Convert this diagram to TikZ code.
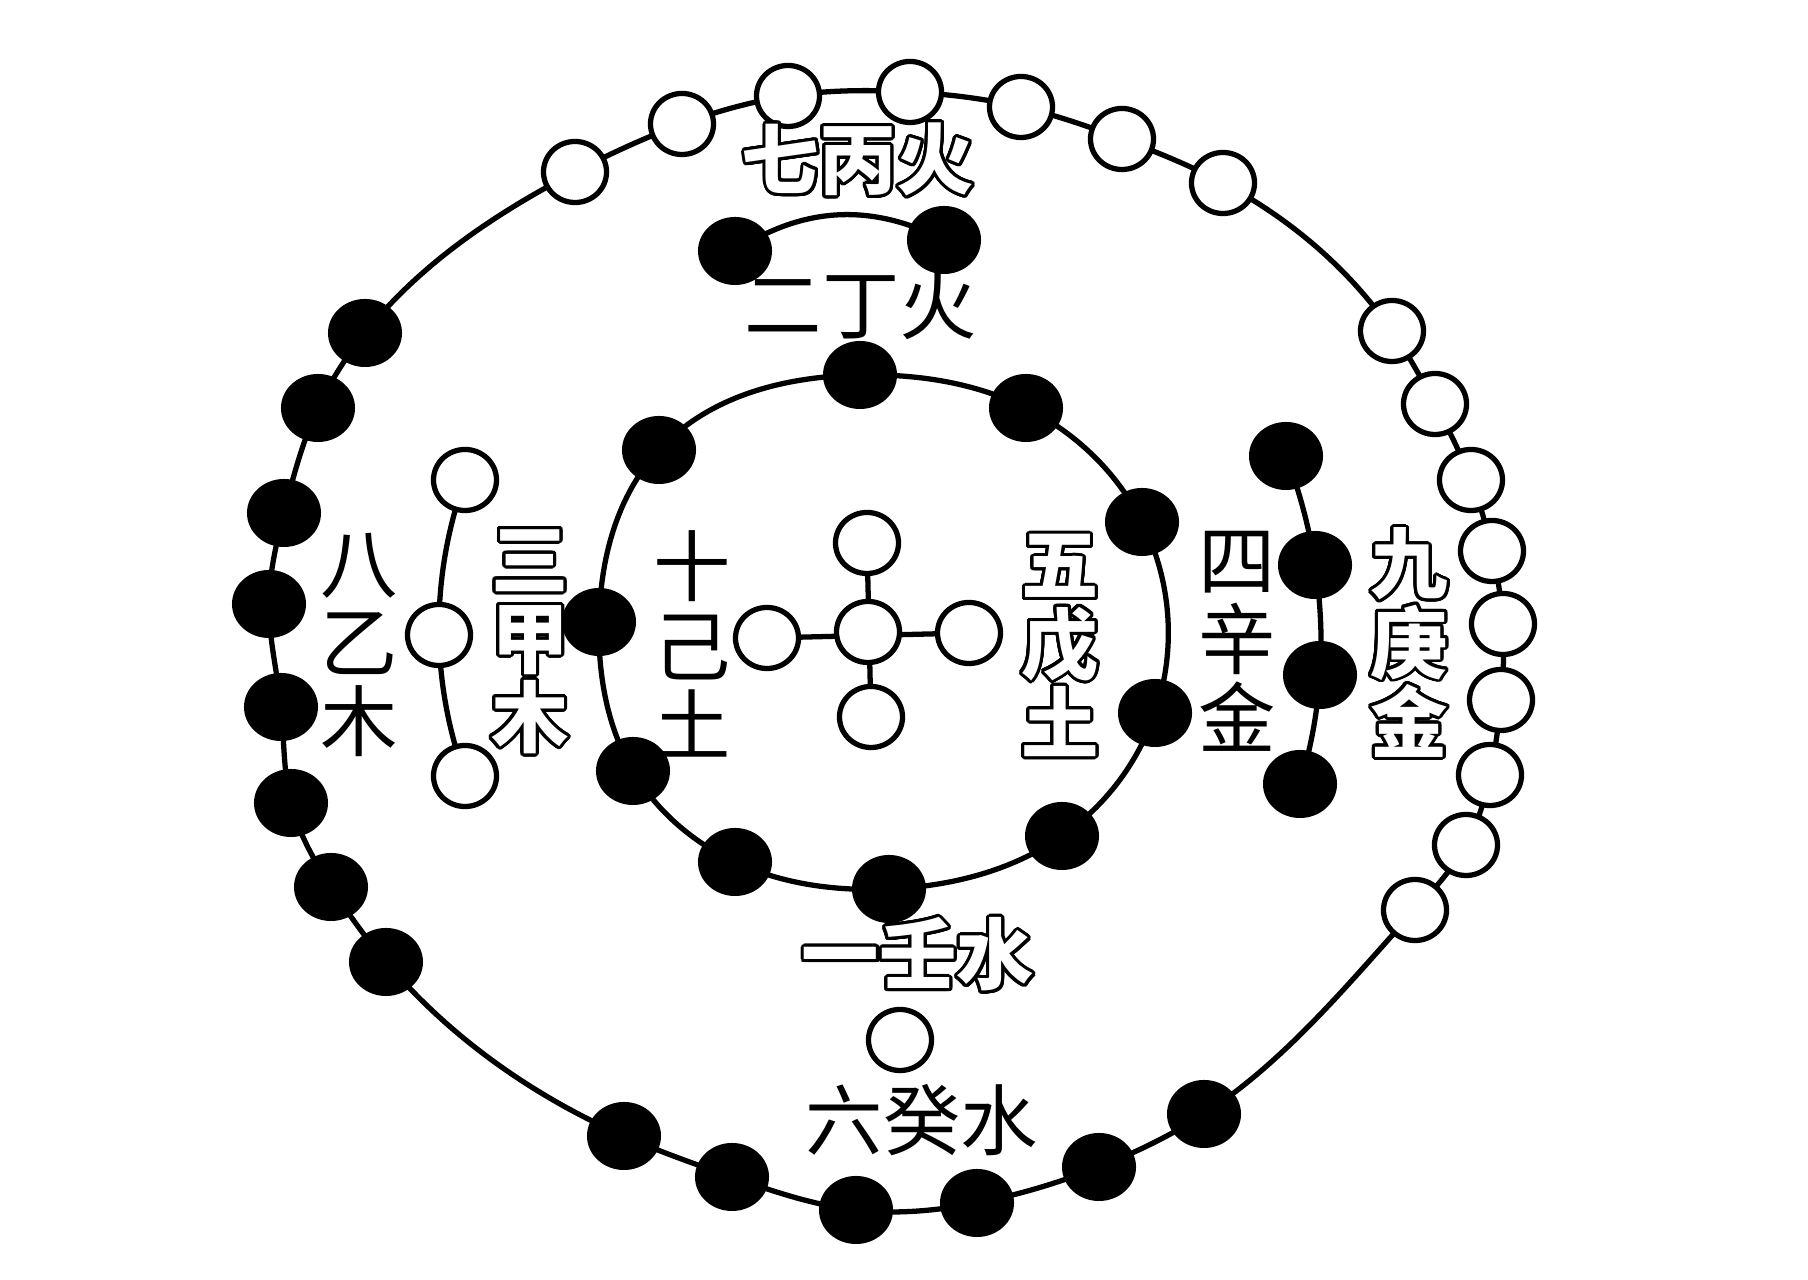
\documentclass[tikz,border=0pt]{standalone}
\usepackage{fontspec}
\usepackage{contour}
\newfontfamily\cjk{Noto Sans CJK SC}
\usetikzlibrary{shapes.geometric,backgrounds,hobby}
\contourlength{0.85pt}
\contournumber{32}
\newcommand{\hollowtxt}[1]{\contour{black}{#1}}
\tikzset{
  wb/.style={ellipse,draw=black,fill=white,line width=1.5pt,minimum width=0.63cm,minimum height=0.61cm,inner sep=0pt},
  bb/.style={ellipse,fill=black,minimum width=0.74cm,minimum height=0.68cm,inner sep=0pt},
  ring/.style={draw=black,line width=1.5pt},
  lbl/.style={font=\cjk\fontsize{22pt}{22.5pt}\selectfont,align=center,inner sep=0pt,text=black},
  olbl/.style={font=\cjk\bfseries\fontsize{22pt}{22.5pt}\selectfont,align=center,inner sep=0pt,text=white},
}
\begin{document}
\begin{tikzpicture}[x=0.01cm,y=-0.01cm]
% outer ring beads
\node[wb] (o1) at (575,172) {};
\node[wb] (o2) at (682,124) {};
\node[wb] (o3) at (788,96) {};
\node[wb] (o4) at (910,92) {};
\node[wb] (o5) at (1021,107) {};
\node[wb] (o6) at (1122,139) {};
\node[wb] (o7) at (1223,183) {};
\node[wb] (o8) at (1392,331) {};
\node[wb] (o9) at (1435,404) {};
\node[wb] (o10) at (1471,480) {};
\node[wb] (o11) at (1492,551) {};
\node[wb] (o12) at (1503,624) {};
\node[wb] (o13) at (1501,700) {};
\node[wb] (o14) at (1490,775) {};
\node[wb] (o15) at (1466,845) {};
\node[wb] (o16) at (1415,910) {};
\node[bb] (o17) at (1204,1114) {};
\node[bb] (o18) at (1099,1167) {};
\node[bb] (o19) at (977,1203) {};
\node[bb] (o20) at (856,1210) {};
\node[bb] (o21) at (732,1177) {};
\node[bb] (o22) at (624,1136) {};
\node[bb] (o23) at (386,962) {};
\node[bb] (o24) at (331,887) {};
\node[bb] (o25) at (291,803) {};
\node[bb] (o26) at (281,707) {};
\node[bb] (o27) at (269,604) {};
\node[bb] (o28) at (284,513) {};
\node[bb] (o29) at (318,408) {};
\node[bb] (o30) at (365,333) {};
% inner ring beads
\node[bb] (i1) at (860,375) {};
\node[bb] (i2) at (1026,408) {};
\node[bb] (i3) at (1142,522) {};
\node[bb] (i4) at (1155,713) {};
\node[bb] (i5) at (1062,836) {};
\node[bb] (i6) at (889,889) {};
\node[bb] (i7) at (735,862) {};
\node[bb] (i8) at (633,771) {};
\node[bb] (i9) at (599,622) {};
\node[bb] (i10) at (659,450) {};
% two fire
\node[bb] (d1) at (735,251) {};
\node[bb] (d2) at (944,240) {};
% three wood
\node[wb] (a1) at (465,480) {};
\node[wb] (a2) at (439,635) {};
\node[wb] (a3) at (465,776) {};
% four metal
\node[bb] (s1) at (1286,456) {};
\node[bb] (s2) at (1315,565) {};
\node[bb] (s3) at (1320,675) {};
\node[bb] (s4) at (1300,784) {};
% centre five
\node[wb] (c0) at (868,632) {};
\node[wb] (cT) at (867,543) {};
\node[wb] (cL) at (767,638) {};
\node[wb] (cR) at (969,633) {};
\node[wb] (cB) at (871,717) {};
% one water
\node[wb] (w1) at (900,1040) {};
% labels
\node[olbl] (t7) at (858,161) {\hollowtxt{七丙火}};
\node[lbl] (t2) at (861,305) {二丁火};
\node[lbl] (t8) at (359,645) {八\\乙\\木};
\node[olbl] (t3) at (530,643) {\hollowtxt{三}\\\hollowtxt{甲}\\\hollowtxt{木}};
\node[lbl] (t10) at (692,644) {十\\己\\土};
\node[olbl] (t5) at (1060,647) {\hollowtxt{五}\\\hollowtxt{戊}\\\hollowtxt{土}};
\node[lbl] (t4) at (1237,641) {四\\辛\\金};
\node[olbl] (t9) at (1409,644) {\hollowtxt{九}\\\hollowtxt{庚}\\\hollowtxt{金}};
\node[olbl] (t1) at (918,956) {\hollowtxt{一壬水}};
\node[lbl] (t6) at (922,1120) {六癸水};
\begin{pgfonlayer}{background}
\fill[white] (0,0) rectangle (1808,1280);
\draw[ring] plot[closed hobby] coordinates {(o1) (o2) (o3) (o4) (o5) (o6) (o7) (o8) (o9) (o10) (o11) (o12) (o13) (o14) (o15) (o16) (o17) (o18) (o19) (o20) (o21) (o22) (o23) (o24) (o25) (o26) (o27) (o28) (o29) (o30)};
\draw[ring] plot[closed hobby] coordinates {(i1) (i2) (i3) (i4) (i5) (i6) (i7) (i8) (i9) (i10)};
\draw[ring] (d1.center) to[bend left=30] (d2.center);
\draw[ring] plot[hobby] coordinates {(a1) (a2) (a3)};
\draw[ring] plot[hobby] coordinates {(s1) (s2) (s3) (s4)};
\draw[ring] (cT.center) -- (cB.center);
\draw[ring] (cL.center) -- (cR.center);
\end{pgfonlayer}
\end{tikzpicture}
\end{document}
